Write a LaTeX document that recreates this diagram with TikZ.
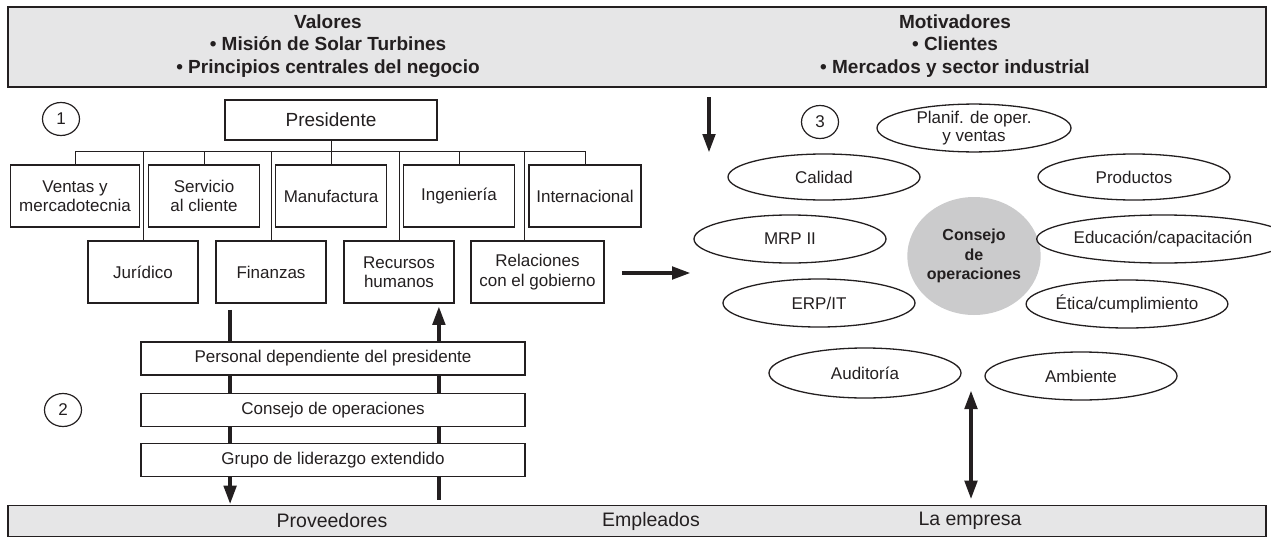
\documentclass[tikz,border=0pt]{standalone}
\usepackage{fontspec}
\setmainfont{Liberation Sans}
\usetikzlibrary{shapes.geometric,arrows.meta,calc}
\definecolor{ink}{HTML}{231F20}
\definecolor{bannergray}{HTML}{E6E6E7}
\definecolor{hubgray}{HTML}{CBCBCC}
\pgfdeclarelayer{bg}
\pgfsetlayers{bg,main}
\begin{document}
\begin{tikzpicture}[x=1pt,y=-1pt,
  every node/.style={text=ink},
  banner/.style={draw=ink, line width=1.6pt, fill=bannergray, inner sep=0pt},
  bannertext/.style={align=center, inner sep=0pt, font=\fontsize{19}{22.5}\selectfont\bfseries},
  basetext/.style={inner sep=0pt, font=\fontsize{19.5}{22}\selectfont},
  orgbox/.style={draw=ink, line width=1.8pt, fill=white, inner sep=0pt, align=center,
    minimum height=62pt, font=\fontsize{17}{19.5}\selectfont},
  stripbox/.style={draw=ink, line width=1.8pt, fill=white, inner sep=0pt, align=center,
    minimum width=384pt, minimum height=33pt, font=\fontsize{17}{19.5}\selectfont},
  oval/.style={ellipse, draw=ink, line width=1.3pt, inner sep=0pt, align=center,
    minimum width=192pt, minimum height=46pt, font=\fontsize{17}{19.5}\selectfont},
  nummark/.style={ellipse, draw=ink, line width=1.2pt, inner sep=0pt,
    minimum width=37pt, minimum height=33pt, font=\fontsize{17}{19}\selectfont},
  orgline/.style={draw=ink, line width=0.9pt},
  bigarrow/.style={draw=ink, line width=4.5pt, -{Triangle[length=19pt,width=12pt]}},
  bigdouble/.style={draw=ink, line width=4.5pt, {Triangle[length=19pt,width=12pt]}-{Triangle[length=19pt,width=12pt]}}
]
\useasboundingbox (0,0) rectangle (1271,538);

% top and bottom bands
\node[banner, minimum width=1258pt, minimum height=80pt] (top) at (637,47) {};
\node[bannertext] (values) at (328,46) {Valores\\• Misión de Solar Turbines\\• Principios centrales del negocio};
\node[bannertext] (drivers) at (955,46) {Motivadores\\• Clientes\\• Mercados y sector industrial};

\node[banner, minimum width=1258pt, minimum height=31pt] (bot) at (637,521) {};
\node[basetext] (prov) at (332,521) {Proveedores};
\node[basetext] (empl) at (651,521) {Empleados};
\node[basetext] (firm) at (970,521) {La empresa};

% numbered markers
\node[nummark] (n1) at (61,119) {1};
\node[nummark] (n2) at (63,410) {2};
\node[nummark] (n3) at (820,122) {3};

% organisation chart
\node[orgbox, minimum width=212pt, minimum height=40pt, font=\fontsize{19}{21}\selectfont] (pres) at (331,120) {Presidente};

\node[orgbox, minimum width=129pt] (vent) at (75,196) {Ventas y\\mercadotecnia};
\node[orgbox, minimum width=111pt] (serv) at (204,196) {Servicio\\al cliente};
\node[orgbox, minimum width=111pt] (manu) at (331,196) {Manufactura};
\node[orgbox, minimum width=111pt] (inge) at (459,196) {Ingeniería};
\node[orgbox, minimum width=112pt] (intl) at (585,196) {Internacional};

\node[orgbox, minimum width=110pt] (jur) at (143,272) {Jurídico};
\node[orgbox, minimum width=110pt] (fin) at (271,272) {Finanzas};
\node[orgbox, minimum width=110pt] (rec) at (399,272) {Recursos\\humanos};
\node[orgbox, minimum width=133pt] (rel) at (537.5,272) {Relaciones\\con el gobierno};

\coordinate (bus) at (331,151);
\coordinate (relx) at (524,151);
\draw[orgline] (pres.south) -- (manu.north);
\draw[orgline] (vent.north) -- (vent.north |- bus) -- (intl.north |- bus) -- (intl.north);
\draw[orgline] (serv.north) -- (serv.north |- bus);
\draw[orgline] (inge.north) -- (inge.north |- bus);
\draw[orgline] (jur.north |- bus) -- (jur.north);
\draw[orgline] (fin.north |- bus) -- (fin.north);
\draw[orgline] (rec.north |- bus) -- (rec.north);
\draw[orgline] (relx) -- (relx |- rel.north);

% leadership strips
\node[stripbox] (staff) at (333,358.5) {Personal dependiente del presidente};
\node[stripbox] (opc) at (333,410) {Consejo de operaciones};
\node[stripbox] (elg) at (333,460) {Grupo de liderazgo extendido};

% operations council
\node[ellipse, fill=hubgray, inner sep=0pt, minimum width=132pt, minimum height=118pt,
  align=center, font=\fontsize{16}{19.5}\selectfont\bfseries] (hub) at (974,256) {Consejo\\de\\operaciones};
\node[oval, minimum width=194pt, minimum height=44pt, font=\fontsize{17}{18}\selectfont] (plan) at (974,128) {Planif. de oper.\\y ventas};
\node[oval] (cal) at (824,177) {Calidad};
\node[oval] (prod) at (1134,177) {Productos};
\node[oval, minimum height=48pt] (mrp) at (790,239) {MRP II};
\node[oval, minimum width=208pt, minimum height=48pt] (edu) at (1163,239) {Educación/capacitación};
\node[oval, minimum height=48pt] (erp) at (819,303) {ERP/IT};
\node[oval, minimum height=48pt] (eti) at (1127,304) {Ética/cumplimiento};
\node[oval, minimum height=50pt] (aud) at (865,373) {Auditoría};
\node[oval, minimum height=48pt] (amb) at (1081,376) {Ambiente};

% heavy flow arrows
\coordinate (fa) at ($(fin.south west)+(15,6)$);
\coordinate (ra) at ($(rec.south east)+(-16,2)$);
\coordinate (rs) at ($(rel.east)+(17,1)$);
\coordinate (hubin) at (691,273);
\coordinate (ms) at (709,97);
\coordinate (me) at (709,153);
\coordinate (dt) at (971,390);
\begin{pgfonlayer}{bg}
\draw[bigarrow] (fa) -- (fa |- bot.north);
\draw[bigarrow, shorten <=5pt] (ra |- bot.north) -- (ra);
\end{pgfonlayer}
\draw[bigarrow] (rs) -- (hubin);
\draw[bigarrow] (ms) -- (me);
\draw[bigdouble, shorten >=5pt] (dt) -- (dt |- bot.north);
\end{tikzpicture}
\end{document}
